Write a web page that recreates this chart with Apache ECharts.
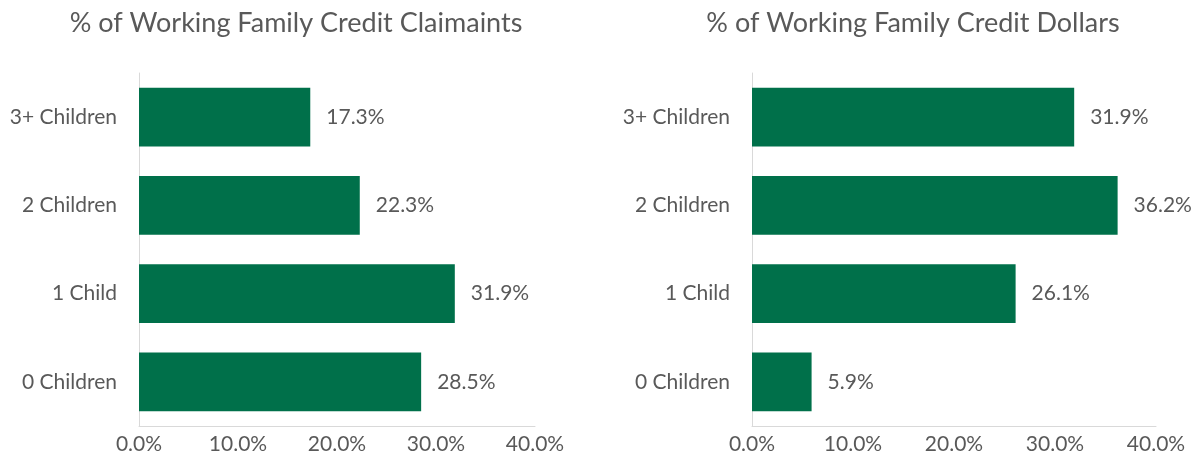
<!DOCTYPE html>
<html>
<head>
<meta charset="utf-8">
<script src="https://cdn.jsdelivr.net/npm/echarts@6/dist/echarts.min.js"></script>
<style>
  html, body { margin: 0; padding: 0; background: #fff; }
  #chart { width: 1198px; height: 468px; }
</style>
</head>
<body>
<div id="chart"></div>
<script>
// categories bottom -> top (ECharts category axis goes upwards)
const categories = ['0 Children', '1 Child', '2 Children', '3+ Children'];
const claimants = [28.5, 31.9, 22.3, 17.3];
const dollars = [5.9, 26.1, 36.2, 31.9];
const titles = ['% of Working Family Credit Claimaints', '% of Working Family Credit Dollars'];
const xTicks = [0, 10, 20, 30, 40];

const green = '#00704A';
const textColor = '#595959';
const font = 'Lato';

function xAxisFor(idx) {
  return {
    gridIndex: idx,
    type: 'value',
    min: xTicks[0],
    max: xTicks[xTicks.length - 1],
    interval: 10,
    axisLine: { show: true, lineStyle: { color: '#D9D9D9', width: 1 } },
    axisTick: { show: false },
    splitLine: { show: false },
    axisLabel: {
      color: textColor,
      fontFamily: font,
      fontSize: 21,
      margin: 8,
      formatter: v => v.toFixed(1) + '%'
    }
  };
}

function yAxisFor(idx) {
  return {
    gridIndex: idx,
    type: 'category',
    data: categories,
    axisLine: { show: true, lineStyle: { color: '#D9D9D9', width: 1 } },
    axisTick: { show: false },
    axisLabel: { color: textColor, fontFamily: font, fontSize: 21, margin: 22 }
  };
}

function seriesFor(idx, data) {
  return {
    type: 'bar',
    xAxisIndex: idx,
    yAxisIndex: idx,
    data: data,
    barCategoryGap: '33.5%',
    itemStyle: { color: green },
    label: {
      show: true,
      position: 'right',
      distance: 16,
      color: textColor,
      fontFamily: font,
      fontSize: 21,
      formatter: p => p.value.toFixed(1) + '%'
    }
  };
}

const chart = echarts.init(document.getElementById('chart'));
chart.setOption({
  animation: false,
  backgroundColor: '#fff',
  title: [
    { text: titles[0], left: 291, top: 5, textAlign: 'center',
      textStyle: { color: textColor, fontFamily: font, fontSize: 27, fontWeight: 'normal' } },
    { text: titles[1], left: 908, top: 5, textAlign: 'center',
      textStyle: { color: textColor, fontFamily: font, fontSize: 27, fontWeight: 'normal' } }
  ],
  grid: [
    { left: 139, right: 663, top: 73, bottom: 42 },
    { left: 752, right: 42, top: 73, bottom: 42 }
  ],
  xAxis: [xAxisFor(0), xAxisFor(1)],
  yAxis: [yAxisFor(0), yAxisFor(1)],
  series: [seriesFor(0, claimants), seriesFor(1, dollars)]
});
</script>
</body>
</html>
